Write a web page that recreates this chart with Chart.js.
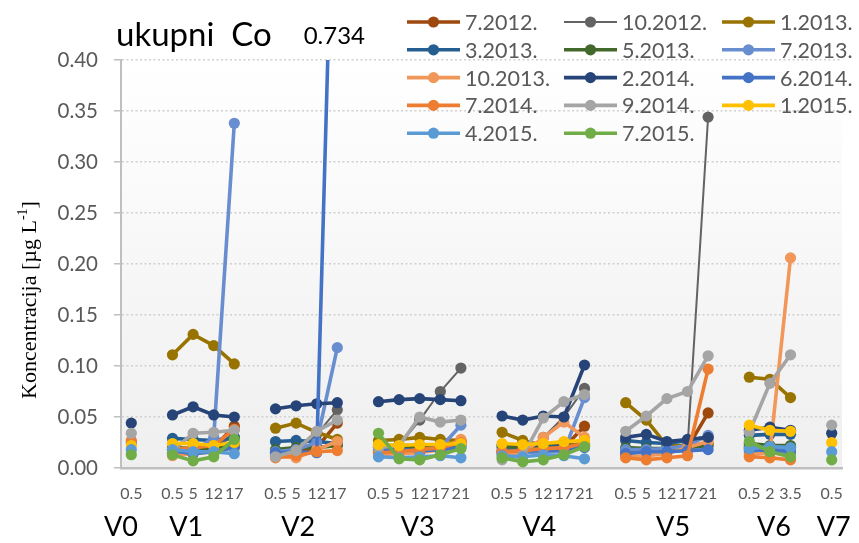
<!DOCTYPE html>
<html>
<head>
<meta charset="utf-8">
<script src="https://cdn.jsdelivr.net/npm/chart.js@4.4.1/dist/chart.umd.min.js"></script>
<style>
  html, body { margin: 0; padding: 0; background: #fff; }
  #wrap { width: 859px; height: 543px; }
</style>
</head>
<body>
<div id="wrap"><canvas id="coChart" width="859" height="543"></canvas></div>
<script>
const _ = null;

// dubine uzorkovanja po postajama (prazno mjesto = razmak između postaja)
const xLabels = [
  '0.5', '',
  '0.5', '5', '12', '17', '',
  '0.5', '5', '12', '17', '',
  '0.5', '5', '12', '17', '21', '',
  '0.5', '5', '12', '17', '21', '',
  '0.5', '5', '12', '17', '21', '',
  '0.5', '2', '3.5', '',
  '0.5'
];
const stations = ['V0', 'V1', 'V2', 'V3', 'V4', 'V5', 'V6', 'V7'];
const stationCenters = [-0.5, 2.66, 8.1, 13.9, 19.8, 26.3, 31.2, 34.1];

const yTicks = [0, 0.05, 0.10, 0.15, 0.20, 0.25, 0.30, 0.35, 0.40];

const seriesNames = ['7.2012.', '10.2012.', '1.2013.', '3.2013.', '5.2013.', '7.2013.', '10.2013.',
  '2.2014.', '6.2014.', '7.2014.', '9.2014.', '1.2015.', '4.2015.', '7.2015.'];
const seriesColors = ['#9E480E', '#636363', '#997300', '#255E91', '#43682B', '#698ED0', '#F1975A',
  '#264478', '#4472C4', '#ED7D31', '#A5A5A5', '#FFC000', '#5B9BD5', '#70AD47'];

//              V0     V1                            V2                            V3                                   V4                                   V5                                   V6                   V7
const s7_2012  = [_, _, 0.015, 0.017, 0.020, 0.041, _, 0.013, 0.016, 0.020, 0.044, _, 0.018, 0.020, 0.022, 0.022, 0.026, _, 0.016, 0.017, 0.018, 0.020, 0.041, _, 0.015, 0.016, 0.017, 0.020, 0.054, _, 0.020, 0.020, 0.020, _, _];
const s10_2012 = [_, _, 0.018, 0.020, 0.022, 0.030, _, 0.015, 0.017, 0.033, 0.057, _, 0.020, 0.022, 0.047, 0.075, 0.098, _, 0.015, 0.015, 0.030, 0.050, 0.078, _, 0.018, 0.017, 0.018, 0.020, 0.344, _, 0.022, 0.020, 0.020, _, _];
const s1_2013  = [_, _, 0.111, 0.131, 0.120, 0.102, _, 0.039, 0.044, 0.035, 0.028, _, 0.027, 0.028, 0.030, 0.028, 0.027, _, 0.035, 0.027, 0.022, 0.022, 0.024, _, 0.064, 0.047, 0.022, 0.022, 0.024, _, 0.089, 0.087, 0.069, _, _];
const s3_2013  = [_, _, 0.029, 0.028, 0.027, 0.030, _, 0.026, 0.027, 0.026, 0.024, _, 0.022, 0.022, 0.022, 0.021, 0.024, _, 0.022, 0.021, 0.021, 0.021, 0.022, _, 0.027, 0.025, 0.024, 0.027, 0.030, _, 0.032, 0.033, 0.033, _, _];
const s5_2013  = [_, _, 0.020, 0.019, 0.020, 0.022, _, 0.018, 0.020, 0.020, 0.022, _, 0.020, 0.020, 0.020, 0.020, 0.022, _, 0.020, 0.020, 0.019, 0.020, 0.022, _, 0.020, 0.019, 0.019, 0.020, 0.022, _, 0.024, 0.022, 0.022, _, _];
const s7_2013  = [_, _, 0.015, 0.016, 0.030, 0.338, _, 0.016, 0.018, 0.025, 0.118, _, 0.015, 0.015, 0.017, 0.020, 0.042, _, 0.014, 0.015, 0.016, 0.016, 0.069, _, 0.018, 0.018, 0.019, 0.022, 0.032, _, 0.016, 0.015, 0.015, _, _];
const s10_2013 = [_, _, 0.012, 0.014, 0.016, 0.020, _, 0.012, 0.010, 0.018, 0.026, _, 0.013, 0.014, 0.015, 0.018, 0.028, _, 0.015, 0.014, 0.030, 0.045, 0.030, _, 0.011, 0.012, 0.014, 0.020, 0.026, _, 0.013, 0.015, 0.206, _, _];
const s2_2014  = [0.044, _, 0.052, 0.060, 0.052, 0.050, _, 0.058, 0.061, 0.063, 0.064, _, 0.065, 0.067, 0.068, 0.067, 0.066, _, 0.051, 0.047, 0.051, 0.050, 0.101, _, 0.030, 0.033, 0.026, 0.028, 0.030, _, 0.037, 0.040, 0.037, _, 0.034];
const s6_2014  = [0.025, _, 0.017, 0.014, 0.016, 0.020, _, 0.015, 0.016, 0.015, 0.734, _, 0.017, 0.018, 0.017, 0.018, 0.020, _, 0.017, 0.017, 0.017, 0.018, 0.020, _, 0.014, 0.016, 0.016, 0.017, 0.018, _, 0.018, 0.017, 0.017, _, _];
const s7_2014  = [0.027, _, 0.018, 0.020, 0.022, 0.038, _, 0.010, 0.012, 0.016, 0.017, _, 0.015, 0.016, 0.018, 0.020, 0.025, _, 0.016, 0.017, 0.019, 0.020, 0.024, _, 0.010, 0.008, 0.010, 0.012, 0.097, _, 0.011, 0.010, 0.008, _, _];
const s9_2014  = [0.034, _, 0.017, 0.034, 0.035, 0.037, _, 0.011, 0.017, 0.036, 0.047, _, 0.020, 0.022, 0.050, 0.045, 0.047, _, 0.008, 0.012, 0.049, 0.065, 0.072, _, 0.036, 0.051, 0.068, 0.075, 0.110, _, 0.035, 0.083, 0.111, _, 0.042];
const s1_2015  = [0.022, _, 0.024, 0.024, 0.022, 0.025, _, _, _, _, _, _, 0.023, 0.022, 0.023, 0.023, 0.024, _, 0.024, 0.023, 0.024, 0.026, 0.027, _, _, _, _, _, _, _, 0.042, 0.037, 0.036, _, 0.025];
const s4_2015  = [0.018, _, 0.018, 0.016, 0.016, 0.014, _, _, _, _, _, _, 0.011, 0.010, 0.011, 0.012, 0.010, _, 0.012, 0.011, 0.013, 0.012, 0.009, _, _, _, _, _, _, _, 0.019, 0.021, 0.020, _, 0.016];
const s7_2015  = [0.013, _, 0.013, 0.007, 0.011, 0.028, _, _, _, _, _, _, 0.034, 0.009, 0.008, 0.013, 0.019, _, 0.010, 0.006, 0.008, 0.013, 0.021, _, _, _, _, _, _, _, 0.026, 0.016, 0.011, _, 0.008];

const seriesValues = [s7_2012, s10_2012, s1_2013, s3_2013, s5_2013, s7_2013, s10_2013,
  s2_2014, s6_2014, s7_2014, s9_2014, s1_2015, s4_2015, s7_2015];

const uiFont = "Lato, 'Open Sans', sans-serif";
const serifFont = "'Liberation Serif', 'Times New Roman', serif";
const yMax = yTicks[yTicks.length - 1];

const datasets = seriesNames.map((name, i) => ({
  label: name,
  data: seriesValues[i],
  borderColor: seriesColors[i],
  backgroundColor: seriesColors[i],
  borderWidth: name === '10.2012.' ? 2 : 3.6,
  pointRadius: 5.6,
  pointHoverRadius: 5.6,
  pointBorderWidth: 0,
  tension: 0,
  // kasnije serije crtaju se iznad ranijih
  order: seriesNames.length - i
}));

// pozadina, naslovi, legenda i oznaka vrijednosti izvan skale
const extras = {
  id: 'extras',
  beforeDraw(chart) {
    const { ctx, chartArea: a } = chart;
    const g = ctx.createLinearGradient(0, a.top, 0, a.bottom);
    g.addColorStop(0, '#ffffff');
    g.addColorStop(1, '#efefef');
    ctx.save();
    ctx.fillStyle = g;
    ctx.fillRect(a.left, a.top, a.right - a.left, a.bottom - a.top);
    ctx.restore();
  },
  afterDraw(chart) {
    const { ctx } = chart;
    const xs = chart.scales.x;
    ctx.save();

    // naslov
    ctx.fillStyle = '#000';
    ctx.textBaseline = 'alphabetic';
    ctx.textAlign = 'left';
    ctx.font = `33px ${uiFont}`;
    ctx.fillText('ukupni  Co', 116, 46);

    // vrijednosti koje izlaze iznad skale
    ctx.font = `24px ${uiFont}`;
    ctx.textAlign = 'center';
    seriesValues.forEach(vals => {
      vals.forEach((v, idx) => {
        if (v !== null && v > yMax) ctx.fillText(v.toFixed(3), xs.getPixelForValue(idx) - 3, 44);
      });
    });

    // oznake postaja
    ctx.font = `27px ${uiFont}`;
    ctx.textBaseline = 'middle';
    stations.forEach((s, i) => {
      ctx.fillText(s, xs.getPixelForValue(stationCenters[i]), 527);
    });

    // naslov osi y s eksponentom
    ctx.translate(28, 300);
    ctx.rotate(-Math.PI / 2);
    const main = 'Koncentracija [µg L';
    const sup = '-1';
    const tail = ']';
    ctx.font = `22px ${serifFont}`;
    const w1 = ctx.measureText(main).width;
    const w3 = ctx.measureText(tail).width;
    ctx.font = `14px ${serifFont}`;
    const w2 = ctx.measureText(sup).width;
    let x = -(w1 + w2 + w3) / 2;
    ctx.textAlign = 'left';
    ctx.textBaseline = 'alphabetic';
    ctx.fillStyle = '#000';
    ctx.font = `22px ${serifFont}`;
    ctx.fillText(main, x, 8);
    x += w1;
    ctx.font = `14px ${serifFont}`;
    ctx.fillText(sup, x, -1);
    x += w2;
    ctx.font = `22px ${serifFont}`;
    ctx.fillText(tail, x, 8);
    ctx.setTransform(1, 0, 0, 1, 0, 0);

    // legenda u tri stupca
    const colX = [407, 564, 722];
    ctx.font = `21.5px ${uiFont}`;
    ctx.textBaseline = 'middle';
    chart.data.datasets.forEach((ds, i) => {
      const lx = colX[i % 3];
      const ly = 22 + Math.floor(i / 3) * 27.8;
      ctx.strokeStyle = ds.borderColor;
      ctx.lineWidth = ds.borderWidth;
      ctx.beginPath();
      ctx.moveTo(lx, ly);
      ctx.lineTo(lx + 53, ly);
      ctx.stroke();
      ctx.fillStyle = ds.borderColor;
      ctx.beginPath();
      ctx.arc(lx + 26.5, ly, 5.6, 0, Math.PI * 2);
      ctx.fill();
      ctx.fillStyle = '#595959';
      ctx.fillText(ds.label, lx + 58, ly + 1);
    });
    ctx.restore();
  }
};

new Chart(document.getElementById('coChart'), {
  type: 'line',
  data: { labels: xLabels, datasets },
  options: {
    responsive: false,
    animation: false,
    layout: { padding: { top: 60, right: 9, left: 0, bottom: 0 } },
    plugins: {
      legend: { display: false },
      tooltip: { enabled: false }
    },
    scales: {
      x: {
        type: 'category',
        offset: true,
        afterFit: s => { s.height = 75; },
        grid: { display: false, drawTicks: false },
        border: { display: true, color: '#bfbfbf', width: 2.5 },
        ticks: {
          autoSkip: false,
          maxRotation: 0,
          minRotation: 0,
          padding: 16,
          color: '#595959',
          font: { family: uiFont, size: 16 }
        }
      },
      y: {
        min: 0,
        max: yMax,
        afterFit: s => { s.width = 121; },
        afterBuildTicks: s => { s.ticks = yTicks.map(v => ({ value: v })); },
        grid: {
          color: '#d0d0d0',
          lineWidth: 1.5,
          tickLength: 7,
          tickColor: '#bfbfbf',
          tickWidth: 1.5
        },
        border: { display: true, color: '#bfbfbf', width: 2, dash: [2, 2.5] },
        ticks: {
          padding: 16,
          color: '#595959',
          font: { family: uiFont, size: 20.5 },
          callback: v => v.toFixed(2)
        }
      }
    }
  },
  plugins: [extras]
});
</script>
</body>
</html>
